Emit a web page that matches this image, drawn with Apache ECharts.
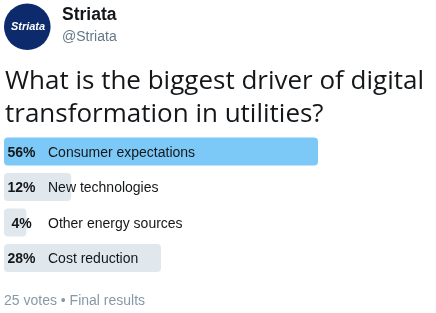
<!DOCTYPE html>
<html>
<head>
<meta charset="utf-8">
<script src="https://cdn.jsdelivr.net/npm/echarts@6/dist/echarts.min.js"></script>
<style>
  html, body { margin: 0; padding: 0; background: #ffffff; }
  #chart { width: 436px; height: 313px; }
</style>
</head>
<body>
<div id="chart"></div>
<script>
// Poll options and their vote shares (%)
const choices = ['Consumer expectations', 'New technologies', 'Other energy sources', 'Cost reduction'];
const shares = [56, 12, 4, 28];
const accountName = 'Striata';
const accountHandle = '@Striata';
const question = ['What is the biggest driver of digital', 'transformation in utilities?'];
const footer = '25 votes \u2022 Final results';

const winner = Math.max(...shares);

const chart = echarts.init(document.getElementById('chart'), null, { renderer: 'canvas' });

chart.setOption({
  backgroundColor: '#ffffff',
  animation: false,
  grid: { left: 4, width: 314, top: 133.75, height: 142 },
  xAxis: {
    type: 'value', min: 0, max: winner,
    show: false
  },
  yAxis: {
    type: 'category', data: choices, inverse: true,
    show: false
  },
  series: [{
    type: 'bar',
    data: shares.map(v => ({
      value: v,
      itemStyle: { color: v === winner ? '#7cc8f7' : '#e1e8ed', borderRadius: 4 }
    })),
    barWidth: 28,
    label: {
      show: true,
      position: [0, '50%'],
      offset: [0, 1.5],
      verticalAlign: 'middle',
      formatter: p => '{pct|' + p.value + '%}{txt|' + choices[p.dataIndex] + '}',
      rich: {
        pct: {
          width: 35, align: 'right',
          fontFamily: 'Liberation Sans', fontWeight: 'bold', fontSize: 14, color: '#14171a'
        },
        txt: {
          padding: [0, 0, 0, 9],
          fontFamily: 'Liberation Sans', fontSize: 14, color: '#14171a'
        }
      }
    }
  }],
  graphic: [
    { type: 'circle', shape: { cx: 27.3, cy: 26.7, r: 23.3 }, style: { fill: '#0c2a6c' } },
    { type: 'text', x: 28, y: 27, style: {
        text: accountName, fill: '#ffffff', align: 'center', verticalAlign: 'middle',
        font: 'italic bold 11px "Liberation Sans"' } },
    { type: 'text', x: 62, y: 15.5, style: {
        text: accountName, fill: '#14171a', verticalAlign: 'middle',
        font: 'bold 17.5px "Liberation Sans"' } },
    { type: 'text', x: 62, y: 37, style: {
        text: accountHandle, fill: '#657786', verticalAlign: 'middle',
        font: '14px "Liberation Sans"' } },
    { type: 'text', x: 5, y: 81.5, style: {
        text: question[0], fill: '#14171a', verticalAlign: 'middle',
        font: '26px "Open Sans"' } },
    { type: 'text', x: 5, y: 115, style: {
        text: question[1], fill: '#14171a', verticalAlign: 'middle',
        font: '26px "Open Sans"' } },
    { type: 'text', x: 4, y: 301.5, style: {
        text: footer, fill: '#8899a6', verticalAlign: 'middle',
        font: '14px "Liberation Sans"' } }
  ]
});
</script>
</body>
</html>
